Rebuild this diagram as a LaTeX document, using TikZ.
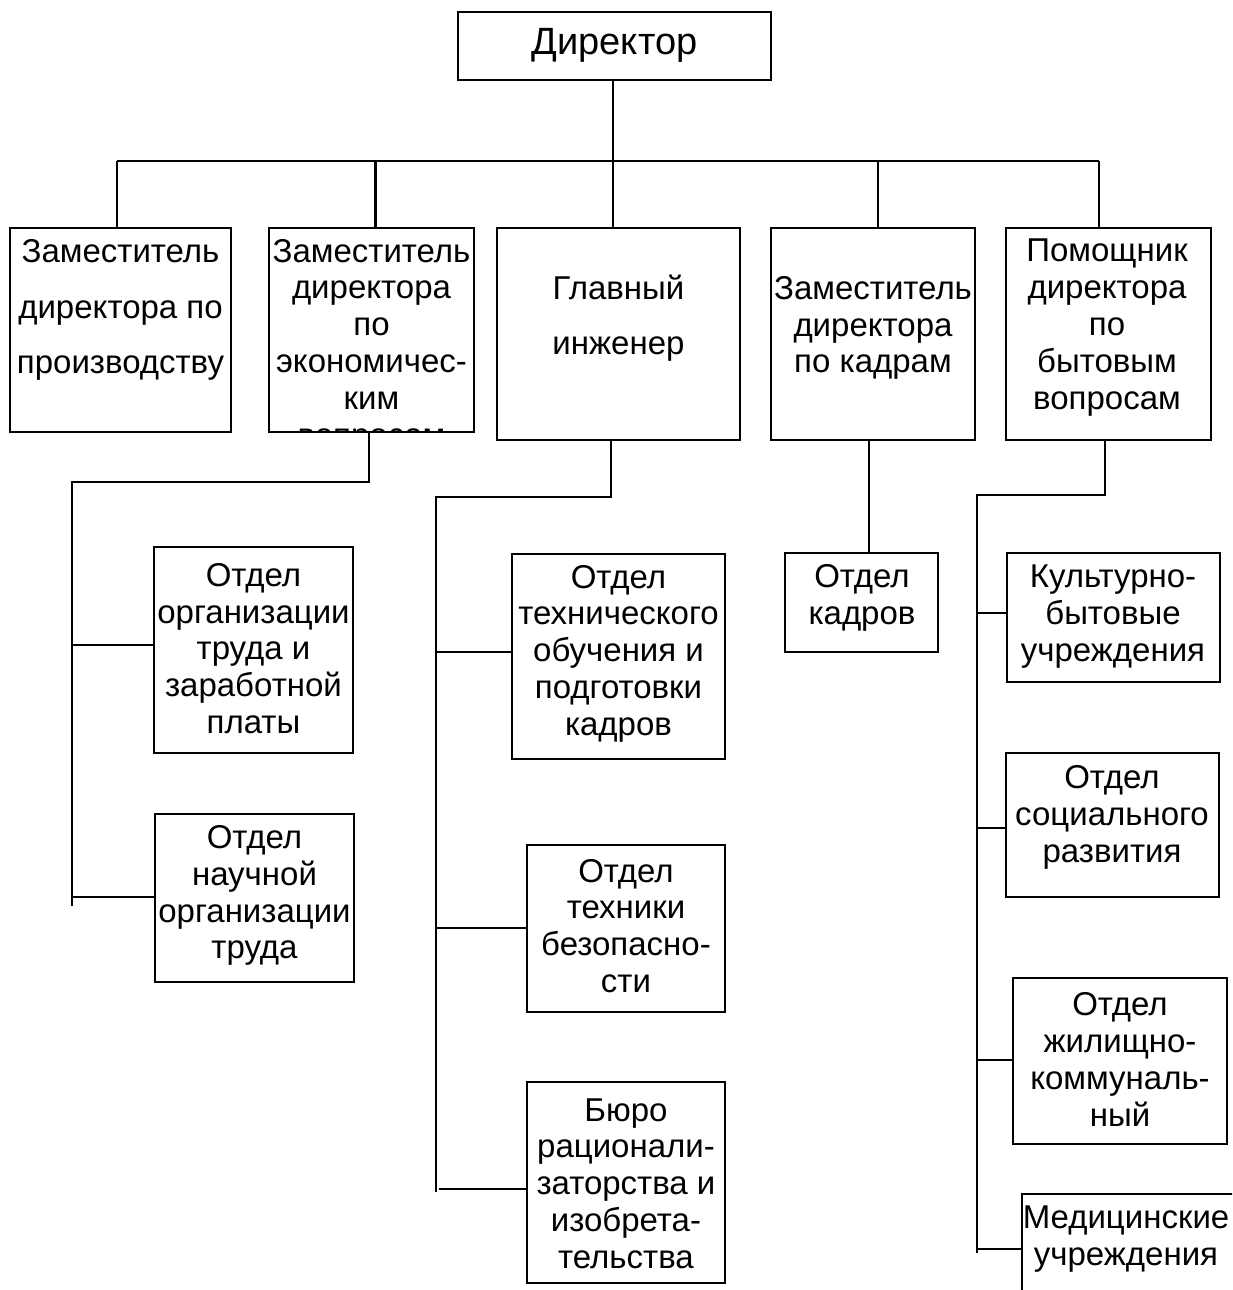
\documentclass[tikz,border=0pt]{standalone}
\usepackage{fontspec}
\setmainfont{Liberation Sans}
\begin{document}
\begin{tikzpicture}[x=1pt,y=-1pt,
  box/.style={draw, line width=2.6pt, inner sep=0pt, outer sep=0pt, anchor=north west},
  txt/.style={align=center, inner sep=0pt, font=\fontsize{33}{36.8}\selectfont},
  wide/.style={align=center, inner sep=0pt, font=\fontsize{33}{55.5}\selectfont},
  con/.style={line width=2.6pt}]
\clip (0,0) rectangle (1232,1290);
\fill[white] (0,0) rectangle (1232,1290);

% boxes
\node[box, minimum width=313pt, minimum height=68pt] (dir) at (458,12) {};
\node[box, minimum width=221pt, minimum height=204pt] (b1) at (10,228) {};
\node[box, minimum width=205pt, minimum height=204pt] (b2) at (269,228) {};
\node[box, minimum width=243pt, minimum height=212pt] (b3) at (497,228) {};
\node[box, minimum width=204pt, minimum height=212pt] (b4) at (771,228) {};
\node[box, minimum width=205pt, minimum height=212pt] (b5) at (1006,228) {};
\node[box, minimum width=199pt, minimum height=206pt] (a1) at (154,547) {};
\node[box, minimum width=199pt, minimum height=168pt] (a2) at (155,814) {};
\node[box, minimum width=213pt, minimum height=205pt] (g1) at (512,554) {};
\node[box, minimum width=198pt, minimum height=167pt] (g2) at (527,845) {};
\node[box, minimum width=198pt, minimum height=201pt] (g3) at (527,1082) {};
\node[box, minimum width=153pt, minimum height=99pt] (k1) at (785,553) {};
\node[box, minimum width=213pt, minimum height=129pt] (s1) at (1007,553) {};
\node[box, minimum width=213pt, minimum height=144pt] (s2) at (1006,753) {};
\node[box, minimum width=214pt, minimum height=166pt] (s3) at (1013,978) {};
\node[box, minimum width=260pt, minimum height=150pt] (s4) at (1022,1194) {};

% texts
\node[inner sep=0pt, font=\fontsize{38}{44}\selectfont] (tdir) at (614.5,45) {Директор};
\node[wide] (t1) at (120.5,310) {Заместитель\\директора по\\производству};
\begin{scope}
\clip (270.3,229.3) rectangle (472.7,430.7);
\node[txt] (t2) at (371.5,346) {Заместитель\\директора\\по\\экономичес-\\ким\\вопросам};
\end{scope}
\node[wide] (t3) at (618.5,318) {Главный\\инженер};
\node[txt] (t4) at (873,328) {Заместитель\\директора\\по кадрам};
\node[txt] (t5) at (1107,327.5) {Помощник\\директора\\по\\бытовым\\вопросам};
\node[txt] (ta1) at (253.5,648.5) {Отдел\\организации\\труда и\\заработной\\платы};
\node[txt] (ta2) at (254.5,895.5) {Отдел\\научной\\организации\\труда};
\node[txt] (tg1) at (618.5,653.5) {Отдел\\технического\\обучения и\\подготовки\\кадров};
\node[txt] (tg2) at (626,926) {Отдел\\техники\\безопасно-\\сти};
\node[txt] (tg3) at (626,1183.5) {Бюро\\рационали-\\заторства и\\изобрета-\\тельства};
\node[txt] (tk1) at (862,597.5) {Отдел\\кадров};
\node[txt] (ts1) at (1113,616.5) {Культурно-\\бытовые\\учреждения};
\node[txt] (ts2) at (1112,817.5) {Отдел\\социального\\развития};
\node[txt] (ts3) at (1120,1059.5) {Отдел\\жилищно-\\коммуналь-\\ный};
\node[txt] (ts4) at (1126,1239) {Медицинские\\учреждения};

% top level connectors
\coordinate (d1) at (117,161);
\coordinate (d2) at (375.5,161);
\coordinate (d3) at (613,161);
\coordinate (d4) at (878,161);
\coordinate (d5) at (1099,161);
\draw[con] (dir.south -| d3) -- (d3);
\draw[con] (d1) -- (d5);
\draw[con] (d1) -- (d1 |- b1.north);
\draw[con] (d2) -- (d2 |- b2.north);
\draw[con] (d3) -- (d3 |- b3.north);
\draw[con] (d4) -- (d4 |- b4.north);
\draw[con] (d5) -- (d5 |- b5.north);

% economics branch
\coordinate (e1) at (369,482);
\coordinate (e2) at (72,482);
\coordinate (e3) at (72,906);
\draw[con] (e1 |- b2.south) -- (e1) -- (e2) -- (e3);
\coordinate (ea1) at (72,645);
\coordinate (ea2) at (72,897);
\draw[con] (ea1) -- (ea1 -| a1.west);
\draw[con] (ea2) -- (ea2 -| a2.west);

% chief engineer branch
\coordinate (f1) at (611,497);
\coordinate (f2) at (436,497);
\coordinate (f3) at (436,1192);
\draw[con] (f1 |- b3.south) -- (f1) -- (f2) -- (f3);
\coordinate (fg1) at (436,652);
\coordinate (fg2) at (436,928);
\coordinate (fg3) at (439,1189);
\draw[con] (fg1) -- (fg1 -| g1.west);
\draw[con] (fg2) -- (fg2 -| g2.west);
\draw[con] (fg3) -- (fg3 -| g3.west);

% personnel branch
\coordinate (h) at (869,500);
\draw[con] (h |- b4.south) -- (h |- k1.north);

% household branch
\coordinate (m1) at (1105,495);
\coordinate (m2) at (977,495);
\coordinate (m3) at (977,1253);
\draw[con] (m1 |- b5.south) -- (m1) -- (m2) -- (m3);
\coordinate (ms1) at (977,613);
\coordinate (ms2) at (977,828);
\coordinate (ms3) at (977,1060);
\coordinate (ms4) at (977,1249);
\draw[con] (ms1) -- (ms1 -| s1.west);
\draw[con] (ms2) -- (ms2 -| s2.west);
\draw[con] (ms3) -- (ms3 -| s3.west);
\draw[con] (ms4) -- (ms4 -| s4.west);
\end{tikzpicture}
\end{document}
